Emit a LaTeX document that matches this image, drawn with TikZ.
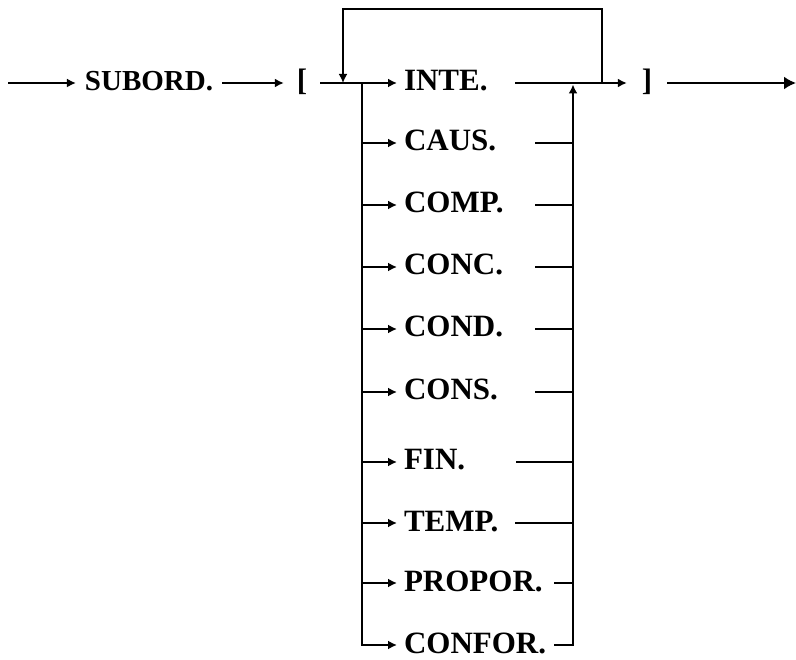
\documentclass[tikz,border=0pt]{standalone}
\usepackage{fontspec}
\setmainfont{Liberation Serif}
\usetikzlibrary{arrows.meta}

\begin{document}
\begin{tikzpicture}[x=1pt,y=-1pt,line width=2pt,
  arr/.style={-{Latex[length=9pt,width=9pt]}},
  bigarr/.style={-{Latex[length=12pt,width=13pt]}}]
\useasboundingbox (0,0) rectangle (796,660);
\begin{scope}[every node/.style={font=\bfseries\fontsize{31}{37}\selectfont,inner ysep=0pt,inner xsep=6pt,text height=20.5pt,text depth=4.5pt}]
 \node[inner xsep=8pt,font=\bfseries\fontsize{29}{35}\selectfont] (sub) at (149,83) {SUBORD.};
 \node[inner xsep=12pt] (lb) at (302,83) {[};
 \node[inner xsep=14pt] (rb) at (647,83) {]};

 \node[anchor=west] (inte) at (397,83) {INTE.};
 \node[anchor=west] (caus) at (397,143) {CAUS.};
 \node[anchor=west] (comp) at (397,205) {COMP.};
 \node[anchor=west] (conc) at (397,267) {CONC.};
 \node[anchor=west] (cond) at (397,329) {COND.};
 \node[anchor=west] (cons) at (397,392) {CONS.};
 \node[anchor=west] (fin) at (397,462) {FIN.};
 \node[anchor=west] (temp) at (397,523) {TEMP.};
 \node[anchor=west] (propor) at (397,583) {PROPOR.};
 \node[anchor=west] (confor) at (397,645) {CONFOR.};
\end{scope}

\coordinate (in) at (8,83);
\coordinate (out) at (796,83);
\coordinate (split) at (362,83);
\coordinate (join) at (343,83);
\coordinate (merge) at (573,83);
\coordinate (back) at (602,83);

\coordinate (inte-e) at (515,83);
\coordinate (caus-e) at (535,143);
\coordinate (comp-e) at (535,205);
\coordinate (conc-e) at (535,267);
\coordinate (cond-e) at (535,329);
\coordinate (cons-e) at (535,392);
\coordinate (fin-e) at (516,462);
\coordinate (temp-e) at (515,523);
\coordinate (propor-e) at (554,583);
\coordinate (confor-e) at (554,645);

\draw[arr] (in) -- (sub);
\draw[arr] (sub) -- (lb);
\draw[arr] (lb) -- (inte);
\draw[arr] (inte-e) -- (rb);
\draw[bigarr] (rb) -- (out);

\draw[arr] (back) -- ++(0,-74) -| (join);

\draw[arr] (split) |- (confor.west);
\draw[arr] (split |- caus) -- (caus);
\draw[arr] (split |- comp) -- (comp);
\draw[arr] (split |- conc) -- (conc);
\draw[arr] (split |- cond) -- (cond);
\draw[arr] (split |- cons) -- (cons);
\draw[arr] (split |- fin) -- (fin);
\draw[arr] (split |- temp) -- (temp);
\draw[arr] (split |- propor) -- (propor);

\draw[arr, shorten >=1.5pt] (confor-e) -| (merge);
\draw (caus-e) -- (caus-e -| merge);
\draw (comp-e) -- (comp-e -| merge);
\draw (conc-e) -- (conc-e -| merge);
\draw (cond-e) -- (cond-e -| merge);
\draw (cons-e) -- (cons-e -| merge);
\draw (fin-e) -- (fin-e -| merge);
\draw (temp-e) -- (temp-e -| merge);
\draw (propor-e) -- (propor-e -| merge);

\end{tikzpicture}
\end{document}
